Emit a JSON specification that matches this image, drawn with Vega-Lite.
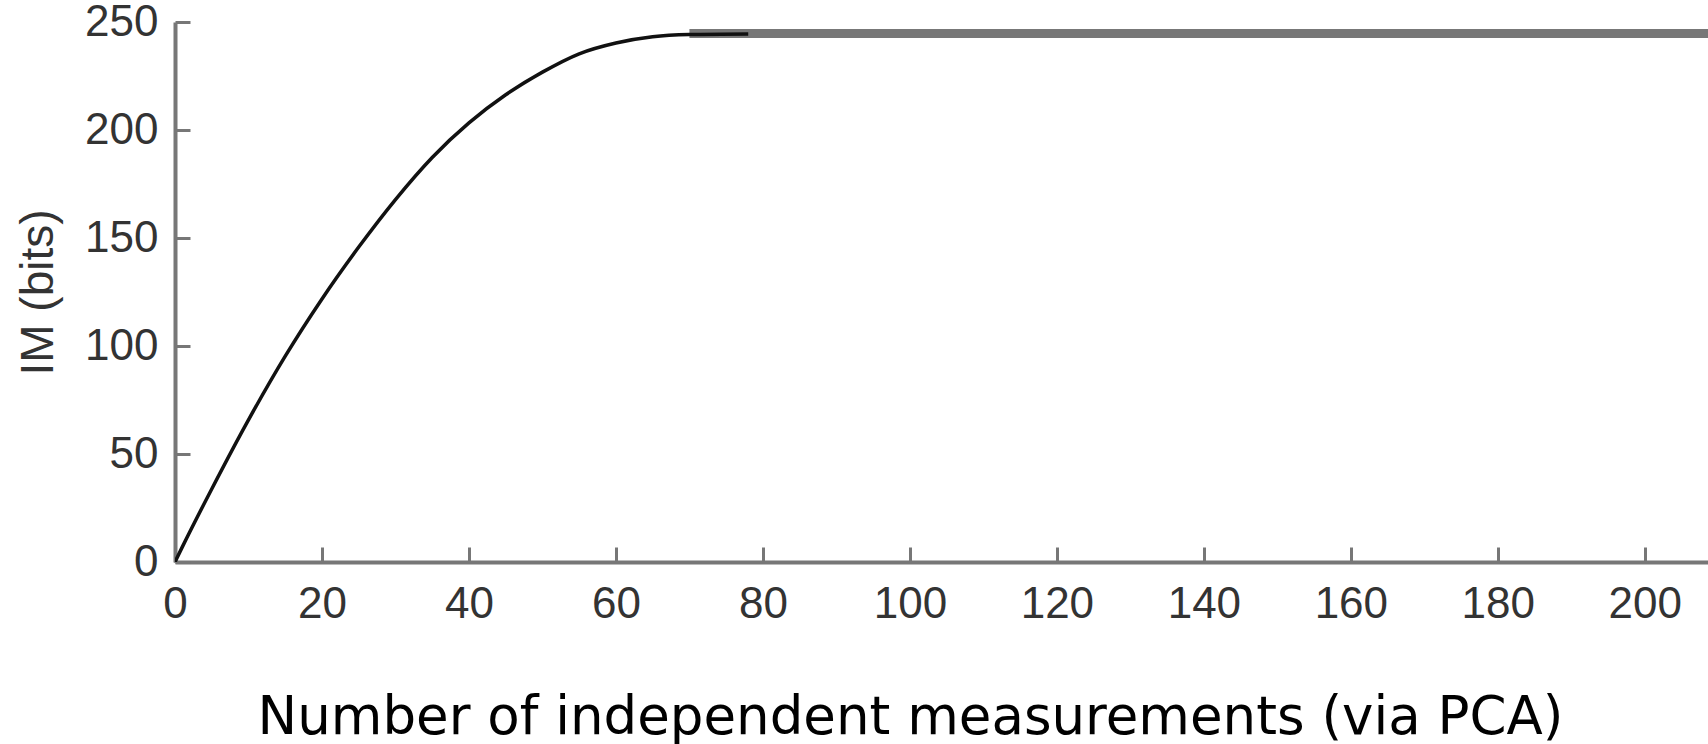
{
  "$schema": "https://vega.github.io/schema/vega-lite/v6.json",
  "autosize": {"type": "none"},
  "width": 1533,
  "height": 540,
  "padding": {"left": 175, "top": 22, "right": 0, "bottom": 182},
  "background": "white",
  "config": {
    "view": {"stroke": null},
    "axis": {
      "grid": false,
      "domainColor": "#777777",
      "domainWidth": 4,
      "tickColor": "#777777",
      "tickWidth": 3,
      "tickSize": -15,
      "labelFont": "Liberation Sans",
      "labelFontSize": 44,
      "labelColor": "#333333",
      "labelFlush": false,
      "titleFontWeight": "normal"
    }
  },
  "datasets": {
    "curve": [
      {"n": 0, "im": 0},
      {"n": 1, "im": 7},
      {"n": 5, "im": 33.8},
      {"n": 10, "im": 65.8},
      {"n": 15, "im": 95.3},
      {"n": 20, "im": 121.8},
      {"n": 25, "im": 145.8},
      {"n": 30, "im": 167.8},
      {"n": 35, "im": 187.3},
      {"n": 40, "im": 203.3},
      {"n": 45, "im": 216.3},
      {"n": 50, "im": 226.8},
      {"n": 55, "im": 235.3},
      {"n": 60, "im": 240.3},
      {"n": 65, "im": 243.2},
      {"n": 70, "im": 244.2},
      {"n": 78, "im": 244.5}
    ],
    "plateau": [
      {"n": 70, "im": 244.7},
      {"n": 212, "im": 244.7}
    ]
  },
  "layer": [
    {
      "data": {"name": "plateau"},
      "mark": {"type": "line", "color": "#777777", "strokeWidth": 9, "clip": true},
      "encoding": {
        "x": {"field": "n", "type": "quantitative"},
        "y": {"field": "im", "type": "quantitative"}
      }
    },
    {
      "data": {"name": "curve"},
      "mark": {"type": "line", "color": "#111111", "strokeWidth": 3.5, "interpolate": "monotone", "clip": true},
      "encoding": {
        "x": {
          "field": "n", "type": "quantitative",
          "scale": {"domain": [0, 208.6], "nice": false, "zero": false},
          "axis": {
            "values": [0, 20, 40, 60, 80, 100, 120, 140, 160, 180, 200],
            "labelPadding": 35,
            "title": "Number of independent measurements (via PCA)",
            "titleFont": "DejaVu Sans",
            "titleFontSize": 53,
            "titleColor": "#000000",
            "titleX": 735,
            "titleY": 171,
            "titleAlign": "center",
            "titleBaseline": "alphabetic",
            "titleAnchor": null
          }
        },
        "y": {
          "field": "im", "type": "quantitative",
          "scale": {"domain": [0, 250], "nice": false},
          "axis": {
            "values": [0, 50, 100, 150, 200, 250],
            "labelPadding": 32,
            "title": "IM (bits)",
            "titleFont": "Liberation Sans",
            "titleFontSize": 46,
            "titleColor": "#333333",
            "titleX": -123,
            "titleY": 270,
            "titleAngle": -90,
            "titleAlign": "center",
            "titleBaseline": "alphabetic"
          }
        }
      }
    }
  ]
}
